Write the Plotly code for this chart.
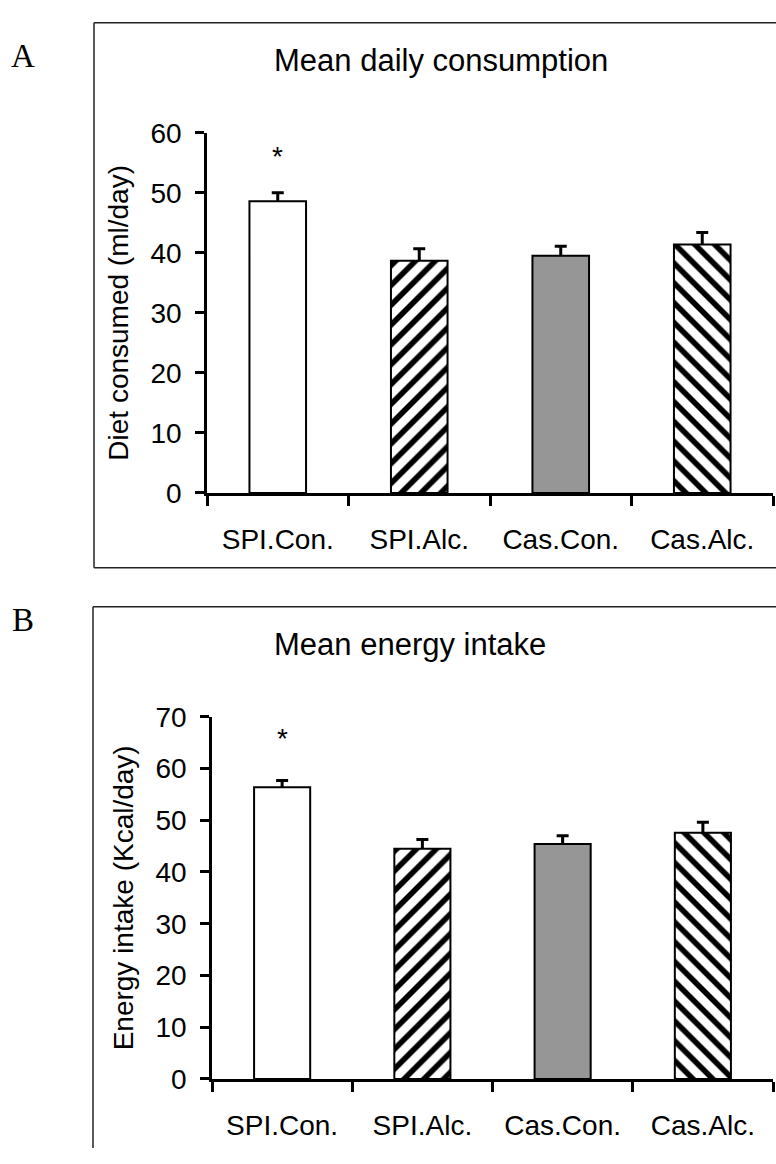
import plotly.graph_objects as go

# Groups and measured means (with SEM, plotted upward only)
groups = ["SPI.Con.", "SPI.Alc.", "Cas.Con.", "Cas.Alc."]

consumption_mean = [48.6, 38.7, 39.5, 41.4]   # ml/day
consumption_sem = [1.4, 2.0, 1.6, 2.0]

energy_mean = [56.4, 44.5, 45.4, 47.6]        # Kcal/day
energy_sem = [1.3, 1.8, 1.6, 2.0]

# significance markers: (group, y position)
consumption_star = ("SPI.Con.", 56.0)
energy_star = ("SPI.Con.", 65.8)

# bar styling per group: fill colour and hatch
fills = ["white", "white", "#969696", "white"]
hatches = ["", "/", "", "\\"]

W, H = 776, 1164
FONT = "Liberation Sans, Arial, sans-serif"
SERIF = "Liberation Serif, Times New Roman, serif"


def fx(px):
    return px / W


def fy(py):
    return 1 - py / H


def add_panel(fig, means, sems, xa, ya):
    # error bars first (upward only); the bars drawn afterwards hide the lower end
    fig.add_trace(go.Bar(
        x=groups, y=means, width=0.4, xaxis=xa, yaxis=ya,
        marker=dict(color="rgba(0,0,0,0)", line=dict(width=0)),
        error_y=dict(type="data", symmetric=False, array=sems,
                     arrayminus=[0.8] * len(sems), color="black",
                     thickness=3, width=6),
        showlegend=False, hoverinfo="skip",
    ))
    for g, m, c, h in zip(groups, means, fills, hatches):
        marker = dict(color=c, line=dict(color="black", width=2))
        if h:
            marker["pattern"] = dict(shape=h, fillmode="replace",
                                     fgcolor="#000000", fgopacity=1,
                                     bgcolor="#ffffff", size=14, solidity=0.4)
        fig.add_trace(go.Bar(
            x=[g], y=[m], width=0.4, xaxis=xa, yaxis=ya, marker=marker,
            showlegend=False, hoverinfo="skip",
        ))


fig = go.Figure()
add_panel(fig, consumption_mean, consumption_sem, "x", "y")
add_panel(fig, energy_mean, energy_sem, "x2", "y2")

xaxis_style = dict(
    type="category",
    categoryorder="array", categoryarray=groups,
    range=[-0.5, 3.5],
    showline=True, linecolor="black", linewidth=2.5,
    ticks="outside", tickson="boundaries", ticklen=10, tickwidth=2.5,
    tickcolor="black",
    tickfont=dict(family=FONT, size=28, color="black"),
    ticklabelstandoff=20,
    showgrid=False, zeroline=False, fixedrange=True,
)
yaxis_style = dict(
    showline=True, linecolor="black", linewidth=2.5,
    ticks="outside", ticklen=9, tickwidth=2.5, tickcolor="black",
    tickfont=dict(family=FONT, size=28, color="black"),
    ticklabelstandoff=8,
    showgrid=False, zeroline=False, fixedrange=True,
)

fig.update_layout(
    width=W, height=H,
    margin=dict(l=0, r=0, t=0, b=0),
    paper_bgcolor="white", plot_bgcolor="white",
    barmode="overlay",
    xaxis=dict(xaxis_style, domain=[fx(207), fx(773)], anchor="y"),
    yaxis=dict(yaxis_style, domain=[fy(491), fy(121)], anchor="x",
               range=[0, 60], tickvals=[0, 10, 20, 30, 40, 50, 60],
               title=dict(text="Diet consumed (ml/day)", standoff=14,
                          font=dict(family=FONT, size=28, color="black"))),
    xaxis2=dict(xaxis_style, domain=[fx(212), fx(773)], anchor="y2"),
    yaxis2=dict(yaxis_style, domain=[fy(1093), fy(721)], anchor="x2",
                range=[0, 70], tickvals=[0, 10, 20, 30, 40, 50, 60, 70],
                title=dict(text="Energy intake (Kcal/day)", standoff=14,
                           font=dict(family=FONT, size=28, color="black"))),
)

# panel frames (open on the right / bottom where they run off the page)
frame_line = dict(type="line", xref="paper", yref="paper",
                  line=dict(color="#222222", width=1.5))
fig.add_shape(frame_line, x0=fx(94), x1=fx(94), y0=fy(568), y1=fy(8))
fig.add_shape(frame_line, x0=fx(94), x1=1.0, y0=fy(8), y1=fy(8))
fig.add_shape(frame_line, x0=fx(94), x1=1.0, y0=fy(568), y1=fy(568))
fig.add_shape(frame_line, x0=fx(93), x1=fx(93), y0=0.0, y1=fy(608))
fig.add_shape(frame_line, x0=fx(93), x1=1.0, y0=fy(608), y1=fy(608))

annotations = [
    # panel letters
    dict(text="A", x=fx(23), y=fy(42), xref="paper", yref="paper",
         xanchor="center", yanchor="middle", showarrow=False,
         font=dict(family=SERIF, size=33, color="black")),
    dict(text="B", x=fx(23), y=fy(622), xref="paper", yref="paper",
         xanchor="center", yanchor="middle", showarrow=False,
         font=dict(family=SERIF, size=33, color="black")),
    # panel titles
    dict(text="Mean daily consumption", x=fx(272), y=fy(47), xref="paper",
         yref="paper", xanchor="left", yanchor="middle", showarrow=False,
         font=dict(family=FONT, size=31, color="black")),
    dict(text="Mean energy intake", x=fx(272), y=fy(647), xref="paper",
         yref="paper", xanchor="left", yanchor="middle", showarrow=False,
         font=dict(family=FONT, size=31, color="black")),
    # significance
    dict(text="*", x=consumption_star[0], y=consumption_star[1], xref="x", yref="y",
         yanchor="middle", showarrow=False,
         font=dict(family=FONT, size=28, color="black")),
    dict(text="*", x=energy_star[0], y=energy_star[1], xref="x2", yref="y2",
         yanchor="middle", showarrow=False,
         font=dict(family=FONT, size=28, color="black")),
]
fig.update_layout(annotations=annotations)

fig.write_html("out.html")
